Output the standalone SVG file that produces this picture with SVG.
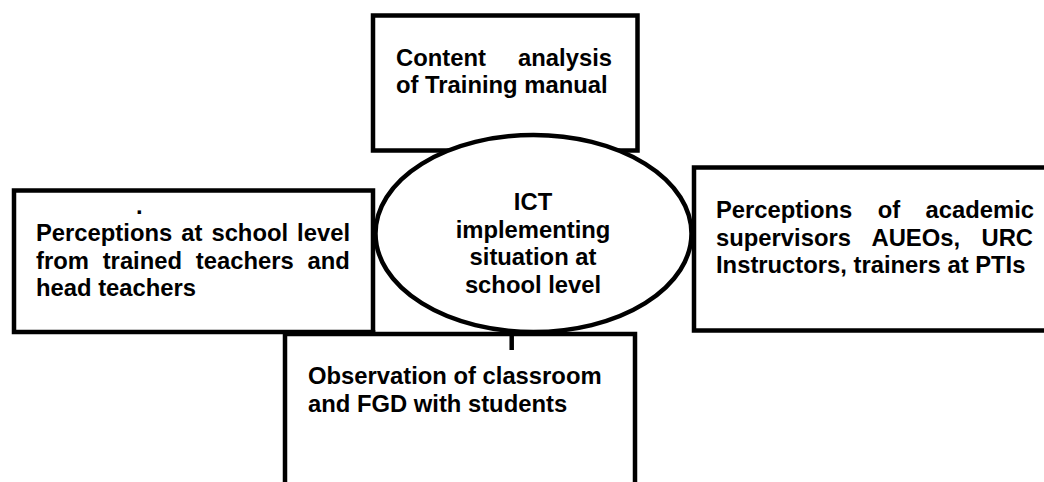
<svg xmlns="http://www.w3.org/2000/svg" width="1044" height="482" viewBox="0 0 1044 482">
<style>
.box{fill:#fff;stroke:#000;stroke-width:4.5}
.t{font-family:"Liberation Sans",Arial,sans-serif;font-weight:bold;font-size:23.8px;fill:#000}
.c{text-anchor:middle}
.ln{stroke:#000;stroke-width:4.5;fill:none}
</style>
<rect width="1044" height="482" fill="#fff"/>
<g id="top-box">
<rect class="box" x="373" y="15.5" width="264.5" height="135"/>
<text class="t" x="396" y="66" word-spacing="25.6">Content analysis</text>
<text class="t" x="396" y="93">of Training manual</text>
</g>
<g id="left-box">
<rect class="box" x="14" y="190.5" width="359" height="141.5"/>
<text class="t" x="136" y="214">.</text>
<text class="t" x="36" y="241" word-spacing="2.4">Perceptions at school level</text>
<text class="t" x="36" y="268.5" word-spacing="7.2">from trained teachers and</text>
<text class="t" x="36" y="296">head teachers</text>
</g>
<g id="right-box">
<rect class="box" x="694" y="167.5" width="400" height="163"/>
<text class="t" x="716" y="218" word-spacing="18.8">Perceptions of academic</text>
<text class="t" x="716" y="245.5" word-spacing="14.8">supervisors AUEOs, URC</text>
<text class="t" x="716" y="273">Instructors, trainers at PTIs</text>
</g>
<g id="center-ellipse">
<ellipse class="box" cx="533.5" cy="233.5" rx="158" ry="98.5"/>
<text class="t c" x="533" y="210">ICT</text>
<text class="t c" x="533" y="237.5">implementing</text>
<text class="t c" x="533" y="265">situation at</text>
<text class="t c" x="533" y="292.5">school level</text>
</g>
<g id="bottom-box">
<rect class="box" x="285" y="334" width="350" height="200"/>
<text class="t" x="308" y="384">Observation of classroom</text>
<text class="t" x="308" y="411.5">and FGD with students</text>
</g>
<g id="connectors">
<line class="ln" x1="511.7" y1="334" x2="511.7" y2="350"/>
<line class="ln" x1="373" y1="330" x2="373" y2="336"/>
</g>
</svg>
